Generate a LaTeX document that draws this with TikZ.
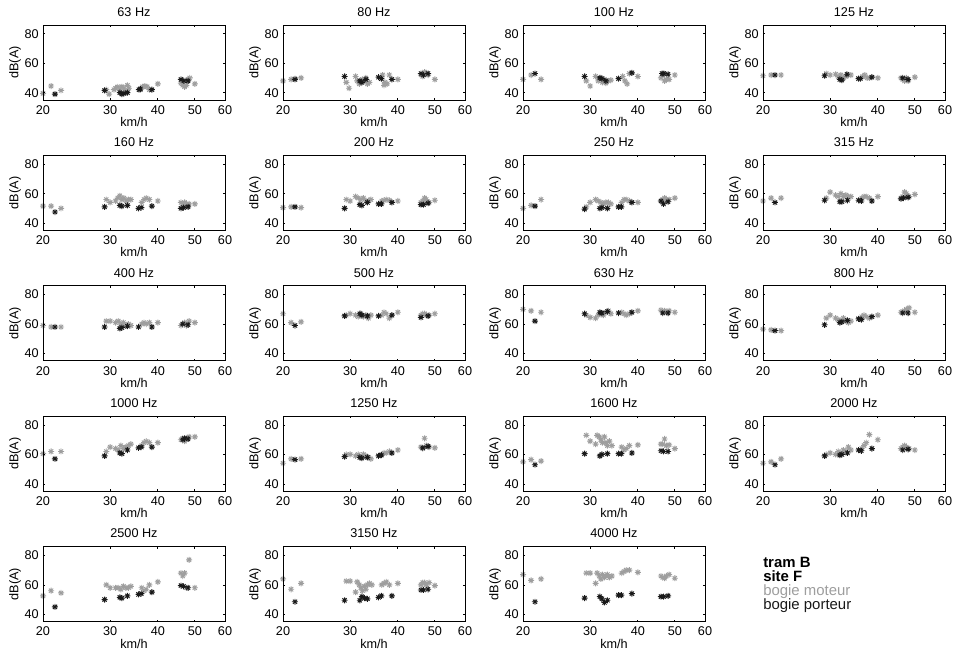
\documentclass[tikz,border=0pt]{standalone}
\usepackage{fontspec}
\setmainfont{Liberation Sans}
\begin{document}
\definecolor{mgray}{RGB}{158,158,158}
\definecolor{mblack}{RGB}{25,25,25}
\tikzset{
  ast/.pic={\draw[line width=0.7pt] (-3,0)--(3,0) (0,-3)--(0,3) (-2.1,-2.1)--(2.1,2.1) (-2.1,2.1)--(2.1,-2.1);},
  axbox/.style={draw=black,line width=0.75pt},
  tick/.style={line width=0.5pt},
  lab/.style={font=\fontsize{9.5}{10}\selectfont,inner sep=0pt},
  leg/.style={font=\fontsize{11.2}{12}\selectfont,inner sep=0pt,anchor=west}
}
\newcommand\panel[5]{%
 \begin{scope}[shift={(43+240*#1,25+130.4*#2)}]
  \foreach \v/\d in {#4}{%
    \pgfmathsetmacro\px{182*ln(\v/20)/ln(3)}%
    \pgfmathsetmacro\py{(86-\d)*75/51}%
    \pic[color=mgray] at (\px,\py) {ast};}
  \foreach \v/\d in {#5}{%
    \pgfmathsetmacro\px{182*ln(\v/20)/ln(3)}%
    \pgfmathsetmacro\py{(86-\d)*75/51}%
    \pic[color=mblack] at (\px,\py) {ast};}
  \draw[axbox] (0,0) rectangle (182,75);
  \foreach \tx in {67.2,114.8,151.8}{\draw[tick] (\tx,75)--(\tx,73) (\tx,0)--(\tx,2);}
  \foreach \ty in {8.82,38.24,67.65}{\draw[tick] (0,\ty)--(2,\ty) (182,\ty)--(180,\ty);}
  \foreach \tx/\tl in {0/20,67.2/30,114.8/40,151.8/50,182/60}{\node[lab] at (\tx,85) {\tl};}
  \foreach \ty/\tl in {8.82/80,38.24/60,67.65/40}{\node[lab,anchor=east] at (-4,\ty) {\tl};}
  \node[lab] (title#1#2) at (91,-13) {#3};
  \node[lab] (xl#1#2) at (91,97) {km/h};
  \node[lab,rotate=90] (yl#1#2) at (-28,37.5) {dB(A)};
 \end{scope}}
\begin{tikzpicture}[x=0.75pt,y=-0.75pt]
\path[use as bounding box] (0,0) rectangle (961,657);
% row 1
\panel{0}{0}{63 Hz}{20/39.5,21/44.5,22.3/41.5,29.3/42,29.8/39,30.7/42,31/43,31.4/44,31.8/42.5,32.2/44,32.6/43,33/41,33.3/45,33.6/43,36/42,36.5/44,37/44.5,37.5/44,38/42,40/46,46/46.5,46.5/45,47/44,47.5/45,48/49,48.5/50,50/46}{21.5/39,29/41.5,31.8/40,32.2/39,32.6/39.5,33.3/40,35.7/42,36/42.5,38.6/42,46/49,46.8/48,48/48}
\panel{1}{0}{80 Hz}{20/48,21/49,21.5/49.5,22.3/50,29.3/47,29.8/43,31/51,31.3/48,31.7/46,32/47,32.3/49,32.7/48,33/50,33.3/46,33.7/47,36.5/52,36.8/45,37/47,37.5/46,38/52,40/49,46/52,46.5/51,47/54,47.5/53,48/52,50/49}{21.5/49,29/51,31.8/48,32.2/47,33/49,35.6/50.5,36.2/49.5,38.6/49,46/53,46.7/52,48/53}
\panel{2}{0}{100 Hz}{20/49,21/52,22.3/49,29.3/48,30/44.5,31/51,31.5/48,32/50,32.3/47,32.7/49,33/46.5,33.5/48,34/48.5,36.5/51,37/48,37.5/46,38/53,40/51,46/50,46.5/52,47/48,47.5/49,48.3/49,50/52}{21.5/53,29/51,31.8/50,32.2/49.5,33/48,35.6/49.5,38.6/53.5,46.3/53,46.8/53,48/52.5}
\panel{3}{0}{125 Hz}{20/51.5,21/52,22.3/52,29.3/53,30/52,31/52.5,31.5/51,32/52,32.5/50,33/51,33.5/52,34/52,36.5/51,37/52,37.5/50,38/50,40/50,46/50,46.5/49,47/48,47.5/50,48/48,50/50.5}{21.5/52,29/51.5,31.8/49,32.2/48.5,33.2/52.5,35.6/49.5,36/49.5,38.6/50.5,46.5/50,48/49}
% row 2
\panel{0}{1}{160 Hz}{20/51.5,21/51.5,22.3/50,29.3/56,30/54,31/55,31.4/57,31.8/58.5,32.2/56,32.6/57,33/55,33.5/56,34/56,36.3/54,36.8/56,37.3/57,38/56,40/55,46/54,46.5/53,47/54,47.5/53,48.3/53,50/53}{21.5/47.5,29/51,31.8/52,32.2/51.5,33.3/52,35.6/50,36.2/50.5,38.6/51.5,46/50,46.7/50.5,48/51}
\panel{1}{1}{200 Hz}{20/50.5,21/51,22.3/50.5,29.3/56,30/55,31/58,31.5/57,32/56,32.5/57,33/55,33.5/55,34/56,36.3/55,36.8/55.5,37.3/56,38/55.5,40/55,46/54,46.5/55,47/57,47.5/56,48.3/54,50/55.5}{21.5/51,29/50,31.8/52.5,32.2/52,33.3/54,35.6/53,36.2/53,38.6/54,46/52.5,46.7/52.5,48/53.5}
\panel{2}{1}{250 Hz}{20/50,21/52,22.3/56,29.3/51,30/54,31/56,31.5/55,32/54,32.5/53,33/54,33.5/54,34/53,36.3/54,36.8/56,37.3/56,38/55,40/54,46/55,46.5/56,47/57,47.5/56,48.3/56,50/57}{21.5/51.5,29/49.5,31.8/50,32.2/50.5,33.3/50,35.6/51,36.2/51,38.6/54,46/55,46.7/53,48/54.5}
\panel{3}{1}{315 Hz}{20/55,21/57,22.3/57,29.3/57,30/61,31/59,31.5/58,32/60,32.5/58,33/59,33.5/58,34/58,36.3/57,36.8/58,37.3/58,38/57,40/58,46/57,46.5/58,47/61,47.5/60,48.3/58,50/59.5}{21.5/54,29/55.5,31.8/54.5,32.2/54.5,33.3/55.5,35.6/55.5,36.2/55,38.6/55,46/56.5,46.7/57,48/57.5}
% row 3
\panel{0}{2}{400 Hz}{20/59,21/58,22.3/58,29.3/62,30/62,31/61,31.5/62,32/60,32.5/61,33/59,33.5/60,34/59,36.3/60,36.8/61,37.3/60,38/61,40/61,46/59,46.5/60,47/61,47.5/59,48.3/62,50/61}{21.5/58,29/58,31.8/57,32.2/57.5,33.3/58.5,35.6/58,38.6/58,46.5/60,48/59.5}
\panel{1}{2}{500 Hz}{20/67,21/61,22.3/61.5,29.3/66,30/67,31/66,31.5/65,32/67,32.5/65,33/66,33.5/64,34/66,36.3/66,36.8/68,37.3/67,38/64,40/68,46/66,46.5/67,47/67,47.5/66,48.3/66,50/67}{21.5/59,29/65.5,31.8/67,32.2/66,33.3/65.5,35.6/65.5,38.6/66,46/64.5,48/65.5}
\panel{2}{2}{630 Hz}{20/70,21/69,22.3/68,29.3/66,30/64.5,31/64,31.5/66,32/67,32.5/66,33/68,33.5/69,34/67,36.3/68,36.8/67,37.3/66,38/67,40/69,46/69.5,46.5/68,47/69,47.5/68,48.3/69,50/68}{21.5/62,29/67,31.8/68,32.2/67.5,33.3/68.5,35.6/67.5,38.6/68,46.5/67.5,48/67.5}
\panel{3}{2}{800 Hz}{20/56.5,21/56,22.3/55.5,29.3/64,30/66,31/64,31.5/63,32/62,32.5/64,33/62,33.5/61,34/62,36.3/65,36.8/66,37.3/65,38/64,40/66,46/68,46.5/68.5,47/69,47.5/70,48.3/71,50/68}{21.5/55.5,29/59.5,31.8/61,32.2/61.5,33.3/62.5,35.6/63.5,36.2/63,38.6/65,46.5/67.5,48/67.5}
% row 4
\panel{0}{3}{1000 Hz}{20/60.5,21/62,22.3/62,29.3/62,30/65,31/64,31.5/63,32/66,32.5/64,33/65,33.5/66,34/67,36.3/66,36.8/68,37.3/69,38/68,40/68,46/70,46.5/71,47/69,47.5/71,48.3/72,50/72}{21.5/57,29/59,31.8/61,32.2/60.5,33.3/63,35.6/64.5,36.2/65,38.6/65,46.5/70,47/71,48/70.5}
\panel{1}{3}{1250 Hz}{20/54,21/57,22.3/57,29.3/60,30/60,31/59,31.5/60,32/58,32.5/60,33/59,33.5/58,34/57,36.3/60,36.8/61,37.3/61,38/62,40/63,46/65,46.5/64,47/71,47.5/66,48.3/65,50/64.5}{21.5/56.5,29/58.5,31.8/58,32.2/57.5,33.3/58,35.6/59,36.2/59.5,38.6/61,46.5/64.5,48/65.5}
\panel{2}{3}{1600 Hz}{20/55,21/56.5,22.3/55.5,29.3/73,30/69,31/67,31.3/73,31.7/72,32/70,32.3/68,32.7/72,33/68,33.3/66,33.7/69,34.2/66,36.3/65,36.8/63,37.3/64,38/66,40/66.5,46/67,46.5/67,47/70.5,47.5/66,48.3/66.5,50/64}{21.5/53,29/60.5,31.8/59,32.2/60,33.3/60.5,35.6/60.5,36.2/60.5,38.6/61,46/62.5,46.7/62,48/62}
\panel{3}{3}{2000 Hz}{20/54,21/55,22.3/57,29.3/60,30/61,31/60,31.5/62,32/61,32.5/63,33/62,33.5/65,34/63,36.3/64,36.8/66,37.3/68,38/73.5,40/70,46/64,46.5/65,47/66,47.5/65,48.3/64,50/63}{21.5/53,29/59,31.8/59.5,32.2/60,33.3/61,35.6/63,36.2/62.5,38.6/64,46.5/63,48/63.5}
% row 5
\panel{0}{4}{2500 Hz}{20/52.5,21/56,22.3/54.5,29.3/60,30/58,31/58,31.5/58,32/57,32.5/59,33/58,33.5/58,34/59,36.3/58,36.8/56,37.3/57,38/60,40/62,46/68,46.5/66,47/68,47.5/58,48.3/77,50/58}{21.5/45,29/50,31.8/51.5,32.2/51,33.3/52.5,35.6/53.5,36.2/54,38.6/55,46/59.5,46.7/59,48/58}
\panel{1}{4}{3150 Hz}{20/64,21/57,22.3/61,29.3/62.5,30/62.5,31/55,31.3/62,31.7/60,32/58,32.3/56,32.7/59,33/57,33.3/60,33.7/61,34.2/60,36.3/60,36.8/61,37.3/62,38/60,40/61,46/60,46.5/61.5,47/61.5,47.5/60,48.3/61.5,50/59.5}{21.5/48.5,29/49.5,31.8/49.5,32.2/52,32.7/51,33.3/50.5,35.6/51.5,36.2/52.5,38.6/52.5,46/56.5,46.7/56.5,48/57}
\panel{2}{4}{4000 Hz}{20/67,21/63,22.3/64,29.3/68,30/68,31/61,31.3/68,31.7/66,32/64,32.3/67,32.7/65,33/66,33.3/67,33.7/65,34.2/66,36.3/68,36.8/69,37.3/70,38/70,40/68.5,46/66,46.5/65,47/64.5,47.5/66,48.3/67,50/64.5}{21.5/48.5,29/51,31.8/52,32.2/50.5,32.7/48,33.3/49.5,35.6/53,36.2/53,38.6/54,46/52,46.7/52,48/52.5}
% legend
\node[leg,font=\fontsize{11.2}{12}\selectfont\bfseries] (l1) at (763,562) {tram B};
\node[leg,font=\fontsize{11.2}{12}\selectfont\bfseries] (l2) at (763,576.5) {site F};
\node[leg,text=mgray] (l3) at (763,591.5) {bogie moteur};
\node[leg,text=mblack] (l4) at (763,606) {bogie porteur};
\end{tikzpicture}
\end{document}
